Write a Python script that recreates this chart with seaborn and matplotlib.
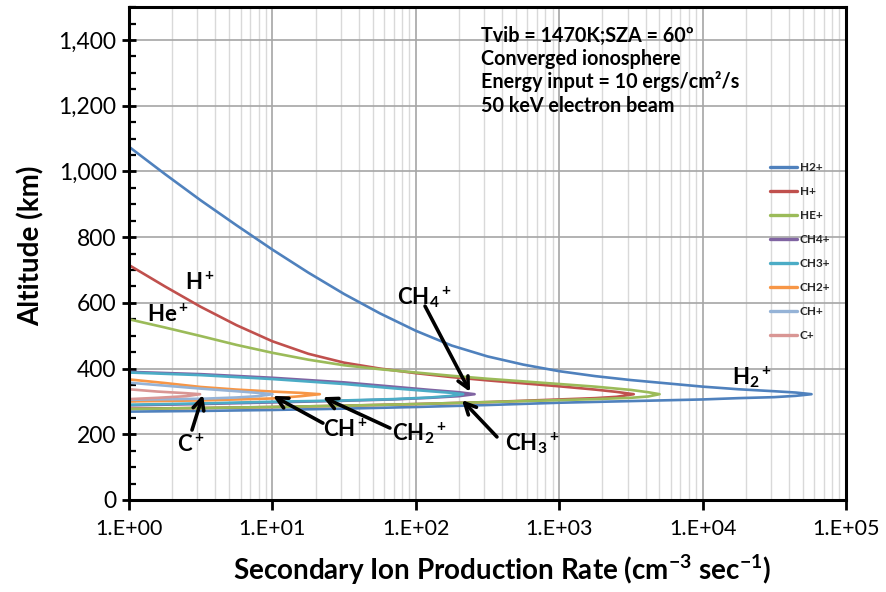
import numpy as np
import pandas as pd
import matplotlib
matplotlib.use("Agg")
import matplotlib.pyplot as plt
import seaborn as sns
from matplotlib.ticker import MultipleLocator, FuncFormatter, LogLocator, FixedLocator
from matplotlib.lines import Line2D

# Ion species and their colours
species = ["H2+", "H+", "HE+", "CH4+", "CH3+", "CH2+", "CH+", "C+"]
colors = ["#4F81BD", "#C0504D", "#9BBB59", "#8064A2",
          "#4BACC6", "#F79646", "#95B3D7", "#D99694"]

# Production profiles: altitude (km) and secondary ion production rate (cm^-3 s^-1),
# traced from the top of each profile through the peak and back down.
h2_alt = [1075, 992, 912, 836, 762, 692, 627, 568, 515, 470, 437, 412, 392, 377, 365, 355,
          345, 337, 331, 327, 322, 317, 313, 310, 306, 301, 296, 289, 283, 278, 274, 271, 269]
h2_rate = [1, 1.78, 3.16, 5.62, 10, 17.8, 31.6, 56.2, 100, 178, 316, 562, 1000, 1780, 3160, 5620,
           10000, 17800, 31600, 44700, 57500, 44700, 31600, 17800, 10000, 3160, 1000, 316, 100,
           31.6, 10, 3.16, 1]

h_alt = [715, 650, 588, 532, 483, 445, 418, 400, 386, 374, 364, 355, 346, 336, 329, 322,
         314, 310, 306, 298, 292, 287, 283, 280, 278]
h_rate = [1, 1.78, 3.16, 5.62, 10, 17.8, 31.6, 56.2, 100, 178, 316, 562, 1000, 1780, 2510, 3310,
          2510, 1780, 1000, 316, 100, 31.6, 10, 3.16, 1]

he_alt = [550, 525, 499, 472, 448, 427, 410, 398, 388, 378, 369, 361, 353, 345, 335, 328, 322,
          315, 311, 307, 304, 298, 292, 287, 283, 280, 277]
he_rate = [1, 1.78, 3.16, 5.62, 10, 17.8, 31.6, 56.2, 100, 178, 316, 562, 1000, 1780, 3160, 4170,
           5010, 4170, 3160, 1780, 1000, 316, 100, 31.6, 10, 3.16, 1]

ch4_alt = [390, 383, 372, 358, 345, 335, 328, 322, 316, 311, 306, 302, 297, 292, 288]
ch4_rate = [1, 3.16, 10, 31.6, 69.2, 126, 200, 257, 200, 126, 69.2, 31.6, 10, 3.16, 1]

ch3_alt = [388, 380, 368, 353, 340, 331, 326, 322, 317, 312, 307, 303, 299, 294, 290]
ch3_rate = [1, 3.16, 10, 31.6, 69.2, 126, 178, 214, 178, 126, 69.2, 31.6, 10, 3.16, 1]

ch2_alt = [367, 356, 344, 336, 330, 326, 322, 316, 309, 303, 300]
ch2_rate = [1, 1.78, 3.16, 5.62, 10, 15.8, 21.4, 15.8, 10, 3.16, 1]

ch_alt = [357, 348, 339, 331, 326, 322, 316, 312, 308, 305]
ch_rate = [1, 1.78, 3.16, 5.62, 7.94, 10, 7.94, 5.62, 3.16, 1]

c_alt = [337, 330, 325, 322, 316, 311, 307]
c_rate = [1, 1.58, 2.51, 3.13, 2.51, 1.58, 1]

alts = [h2_alt, h_alt, he_alt, ch4_alt, ch3_alt, ch2_alt, ch_alt, c_alt]
rates = [h2_rate, h_rate, he_rate, ch4_rate, ch3_rate, ch2_rate, ch_rate, c_rate]

df = pd.concat(
    [pd.DataFrame({"species": s, "altitude": a, "rate": r}) for s, a, r in zip(species, alts, rates)],
    ignore_index=True,
)

sns.set_theme(style="white")
plt.rcParams["font.family"] = ["Lato", "DejaVu Sans"]
plt.rcParams["mathtext.fontset"] = "custom"
plt.rcParams["mathtext.rm"] = "Lato"
plt.rcParams["mathtext.bf"] = "Lato:bold"
plt.rcParams["mathtext.it"] = "Lato:italic"
plt.rcParams["mathtext.sf"] = "Lato"

fig = plt.figure(figsize=(8.86, 5.92), dpi=100)
ax = fig.add_axes([129 / 886, 1 - 500 / 592, 717 / 886, 492.9 / 592])

sns.lineplot(data=df, x="rate", y="altitude", hue="species", hue_order=species,
             palette=colors, sort=False, estimator=None, lw=1.9, ax=ax, legend=False)

ax.set_xscale("log")
ax.set_xlim(1, 1e5)
ax.set_ylim(0, 1500)

# Axis ticks and grid
ax.xaxis.set_major_locator(FixedLocator([1, 10, 100, 1e3, 1e4, 1e5]))
ax.xaxis.set_minor_locator(LogLocator(base=10, subs=np.arange(2, 10)))
ax.xaxis.set_major_formatter(FuncFormatter(lambda v, p: "1.E+%02d" % int(round(np.log10(v)))))
ax.yaxis.set_major_locator(MultipleLocator(200))
ax.yaxis.set_minor_locator(MultipleLocator(50))
ax.yaxis.set_major_formatter(FuncFormatter(lambda v, p: "{:,.0f}".format(v)))

ax.set_axisbelow(True)
ax.grid(which="major", color="#A6A6A6", lw=1.2)
ax.grid(which="minor", axis="x", color="#D9D9D9", lw=1.0)

ax.tick_params(axis="x", which="major", direction="out", length=7, width=2, color="black",
               labelsize=15.5, pad=7, bottom=True)
ax.tick_params(axis="x", which="minor", length=0)
ax.tick_params(axis="y", which="major", direction="inout", length=10, width=2, color="black",
               labelsize=16.5, pad=4, left=True)
ax.tick_params(axis="y", which="minor", direction="in", length=5, width=1.6, color="black", left=True)
for lab in ax.get_xticklabels() + ax.get_yticklabels():
    lab.set_color("black")

for sp in ax.spines.values():
    sp.set_color("black")
    sp.set_linewidth(2.2)

ax.set_xlabel(r"Secondary Ion Production Rate (cm$^{\mathbf{-3}}$ sec$^{\mathbf{-1}}$)",
              fontsize=20, fontweight="bold", color="black")
ax.set_ylabel("Altitude (km)", fontsize=20, fontweight="bold", color="black")
ax.xaxis.set_label_coords(0.52, -0.108)
ax.yaxis.set_label_coords(-0.118, 0.515)

# Legend
handles = [Line2D([], [], color=c, lw=2.4) for c in colors]
ax.legend(handles, species, loc="upper left", bbox_to_anchor=(0.894, 0.686),
          frameon=False, prop={"weight": "bold", "size": 8.5}, handlelength=2.3,
          handletextpad=0.2, labelspacing=1.1, borderpad=0, borderaxespad=0)

# Run description
info = ["Tvib = 1470K;SZA = 60\u00ba", "Converged ionosphere",
        "Energy input = 10 ergs/cm\u00b2/s", "50 keV electron beam"]
for i, line in enumerate(info):
    fig.text(481 / 886, 1 - (41.7 + 23.3 * i) / 592, line, fontsize=14.2,
             fontweight="bold", va="baseline", ha="left", color="black")

# Species labels
lab_kw = dict(fontsize=16, color="black", va="center", ha="left")
ax.text(2.46, 660, r"$\mathbf{H{}^+}$", **lab_kw)
ax.text(1.34, 563, r"$\mathbf{He{}^+}$", **lab_kw)
ax.text(1.6e4, 374, r"$\mathbf{H_2{}^+}$", **lab_kw)

arrow_kw = dict(arrowstyle="->", lw=2.6, color="black", mutation_scale=20,
                shrinkA=0, shrinkB=0)
ax.annotate("", xy=(239, 329), xytext=(116, 590), arrowprops=arrow_kw)
ax.text(73.6, 618, r"$\mathbf{CH_4{}^+}$", **lab_kw)

ax.annotate("", xy=(210, 304), xytext=(368, 192), arrowprops=arrow_kw)
ax.text(420, 173, r"$\mathbf{CH_3{}^+}$", **lab_kw)

ax.annotate("", xy=(22.5, 313), xytext=(66, 219), arrowprops=arrow_kw)
ax.text(68, 204, r"$\mathbf{CH_2{}^+}$", **lab_kw)

ax.annotate("", xy=(10.1, 317), xytext=(22.5, 234), arrowprops=arrow_kw)
ax.text(22.5, 213, r"$\mathbf{CH{}^+}$", **lab_kw)

ax.annotate("", xy=(3.28, 320), xytext=(2.75, 213), arrowprops=arrow_kw)
ax.text(2.16, 167, r"$\mathbf{C{}^+}$", **lab_kw)

fig.savefig("out.png", dpi=100)
